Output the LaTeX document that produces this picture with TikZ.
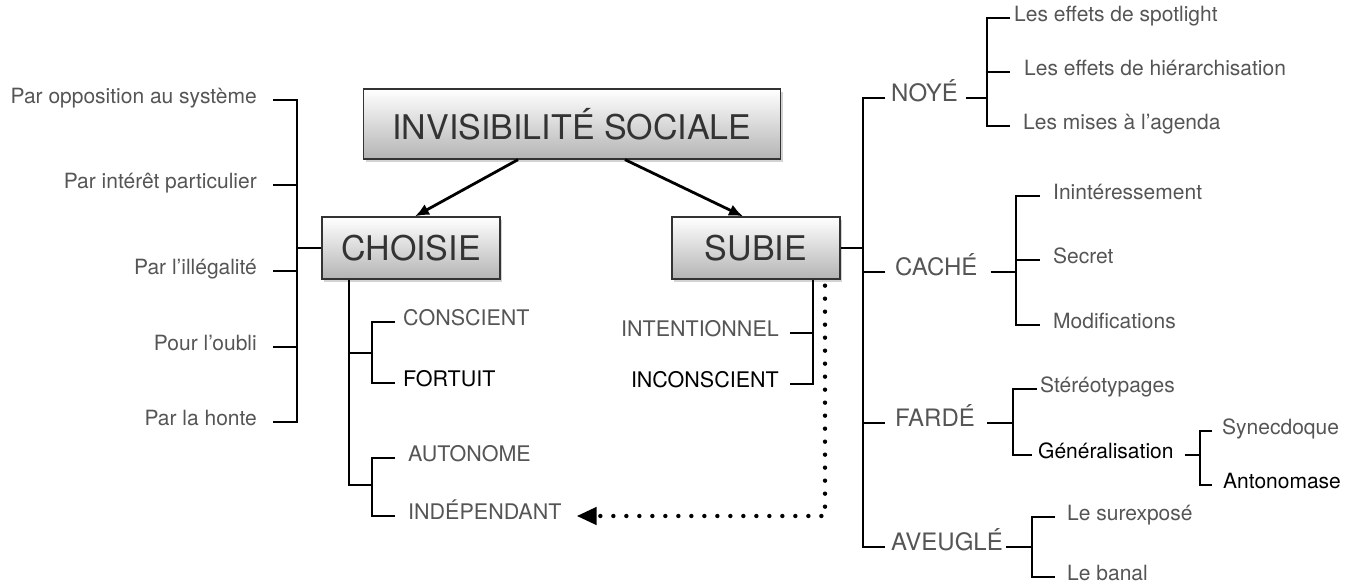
\documentclass[tikz,border=0pt]{standalone}
\usepackage{fontspec}
\setmainfont{TeX Gyre Heros}
\usetikzlibrary{arrows.meta,shadows,shadings}
\definecolor{txt}{HTML}{555555}
\definecolor{boxline}{HTML}{333333}
\definecolor{boxbot}{HTML}{B4B4B4}
\tikzset{
  br/.style={line width=2.8pt, line join=miter, black},
  arr/.style={line width=2.8pt, -{Latex[length=14pt,width=12pt]}},
  dotline/.style={line width=4.4pt, line cap=round, dash pattern=on 0pt off 13pt, -{Triangle[length=20pt,width=17pt]}},
  bigbox/.style={draw=boxline, line width=1.3pt, top color=white, bottom color=boxbot,
     text=boxline, font=\fontsize{34}{40}\selectfont, inner sep=0pt,
     drop shadow={opacity=0.35, shadow xshift=2pt, shadow yshift=-3pt}},
  leaf/.style={inner sep=0pt, text height=0.72em, text depth=0pt, text=txt, font=\fontsize{21}{24}\selectfont},
  capl/.style={inner sep=0pt, text height=0.72em, text depth=0pt, text=txt, font=\fontsize{21.5}{24}\selectfont},
  cat/.style={inner sep=0pt, text height=0.72em, text depth=0pt, text=txt, font=\fontsize{24}{28}\selectfont},
  blk/.style={text=black},
}
\begin{document}
\begin{tikzpicture}[x=1pt,y=-1pt]
\useasboundingbox (0,0) rectangle (1364,588);
% main boxes
\node[bigbox, minimum width=417pt, minimum height=70pt] (root) at (572,124) {INVISIBILITÉ SOCIALE};
\node[bigbox, minimum width=178pt, minimum height=62pt] (choisie) at (411,248) {CHOISIE};
\node[bigbox, minimum width=168pt, minimum height=62pt] (subie) at (756,248) {SUBIE};
\draw[arr] ([xshift=-54pt]root.south) -- ([xshift=4pt]choisie.north);
\draw[arr] ([xshift=53pt]root.south) -- ([xshift=-13pt]subie.north);

% left group
\node[leaf, anchor=east] (l1) at (257,100) {Par opposition au système};
\node[leaf, anchor=east] (l2) at (257,185) {Par intérêt particulier};
\node[leaf, anchor=east] (l3) at (257,271) {Par l’illégalité};
\node[leaf, anchor=east] (l4) at (257,347) {Pour l’oubli};
\node[leaf, anchor=east] (l5) at (257,422) {Par la honte};
\coordinate (Lsp) at (297,248);
\draw[br] ([xshift=16pt]l1.east) -| (Lsp) |- ([xshift=16pt]l5.east);
\foreach \n in {l2,l3,l4} \draw[br] ([xshift=16pt]\n.east) -- (Lsp |- \n.east);
\draw[br] (choisie.west) -- (Lsp);

% choisie sub-groups
\node[capl, anchor=west] (conscient) at (403,322) {CONSCIENT};
\node[capl, anchor=west, blk] (fortuit) at (403,383) {FORTUIT};
\node[capl, anchor=west] (autonome) at (408,458) {AUTONOME};
\node[capl, anchor=west] (indep) at (408,516) {INDÉPENDANT};
\coordinate (Cs) at ([xshift=-62pt]choisie.south);
\coordinate (g1) at (372,353);
\coordinate (g2) at (372,485);
\draw[br] (Cs) |- (g2);
\draw[br] (Cs |- g1) -- (g1);
\draw[br] ([xshift=-8pt]conscient.west) -| (g1) |- ([xshift=-8pt]fortuit.west);
\draw[br] ([xshift=-13pt]autonome.west) -| (g2) |- ([xshift=-13pt]indep.west);

% subie sub-group
\node[capl, anchor=east] (intention) at (779,333) {INTENTIONNEL};
\node[capl, anchor=east, blk] (inconscient) at (779,384) {INCONSCIENT};
\coordinate (Ss) at ([xshift=57pt]subie.south);
\draw[br] (Ss) |- ([xshift=11pt]inconscient.east);
\draw[br] ([xshift=11pt]intention.east) -- (Ss |- intention.east);
\coordinate (Sd) at ([xshift=69pt]subie.south);
\draw[dotline] ([yshift=-6pt]Sd) |- ([xshift=15pt]indep.east);

% right categories
\node[cat, anchor=west] (noye) at (891,98) {NOYÉ};
\node[cat, anchor=west] (cache) at (895,272) {CACHÉ};
\node[cat, anchor=west] (farde) at (895,423) {FARDÉ};
\node[cat, anchor=west] (aveugle) at (891,547) {AVEUGLÉ};
\coordinate (R) at (863,248);
\draw[br] (subie.east) -- (R);
\draw[br] ([xshift=-6pt]noye.west) -| (R) |- ([xshift=-6pt]aveugle.west);
\draw[br] ([xshift=-10pt]cache.west) -- (R |- cache.west);
\draw[br] ([xshift=-10pt]farde.west) -- (R |- farde.west);

% NOYÉ
\node[leaf, anchor=west] (n1) at (1014,18) {Les effets de spotlight};
\node[leaf, anchor=west] (n2) at (1024,72) {Les effets de hiérarchisation};
\node[leaf, anchor=west] (n3) at (1023,126) {Les mises à l’agenda};
\coordinate (N) at (987,98);
\draw[br] ([xshift=8pt]noye.east) -- (N);
\draw[br] ([xshift=-4pt]n1.west) -| (N) |- ([xshift=-13pt]n3.west);
\draw[br] ([xshift=-14pt]n2.west) -- (N |- n2.west);

% CACHÉ
\node[leaf, anchor=west] (c1) at (1053,196) {Inintéressement};
\node[leaf, anchor=west] (c2) at (1053,260) {Secret};
\node[leaf, anchor=west] (c3) at (1053,325) {Modifications};
\coordinate (C) at (1016,272);
\draw[br] ([xshift=13pt]cache.east) -- (C);
\draw[br] ([xshift=-13pt]c1.west) -| (C) |- ([xshift=-13pt]c3.west);
\draw[br] ([xshift=-13pt]c2.west) -- (C |- c2.west);

% FARDÉ
\node[leaf, anchor=west] (f1) at (1040,389) {Stéréotypages};
\node[leaf, anchor=west, blk] (f2) at (1038,455) {Généralisation};
\coordinate (F) at (1013,423);
\draw[br] ([xshift=12pt]farde.east) -- (F);
\draw[br] ([xshift=-3pt]f1.west) -| (F) |- ([xshift=-6pt]f2.west);
\node[leaf, anchor=west] (s1) at (1222,431) {Synecdoque};
\node[leaf, anchor=west, blk] (s2) at (1223,485) {Antonomase};
\coordinate (G) at (1200,455);
\draw[br] ([xshift=11pt]f2.east) -- (G);
\draw[br] ([xshift=-10pt]s1.west) -| (G) |- ([xshift=-11pt]s2.west);

% AVEUGLÉ
\node[leaf, anchor=west] (a1) at (1067,517) {Le surexposé};
\node[leaf, anchor=west] (a2) at (1067,577) {Le banal};
\coordinate (A) at (1032,547);
\draw[br] ([xshift=3pt]aveugle.east) -- (A);
\draw[br] ([xshift=-12pt]a1.west) -| (A) |- ([xshift=-12pt]a2.west);
\end{tikzpicture}
\end{document}
